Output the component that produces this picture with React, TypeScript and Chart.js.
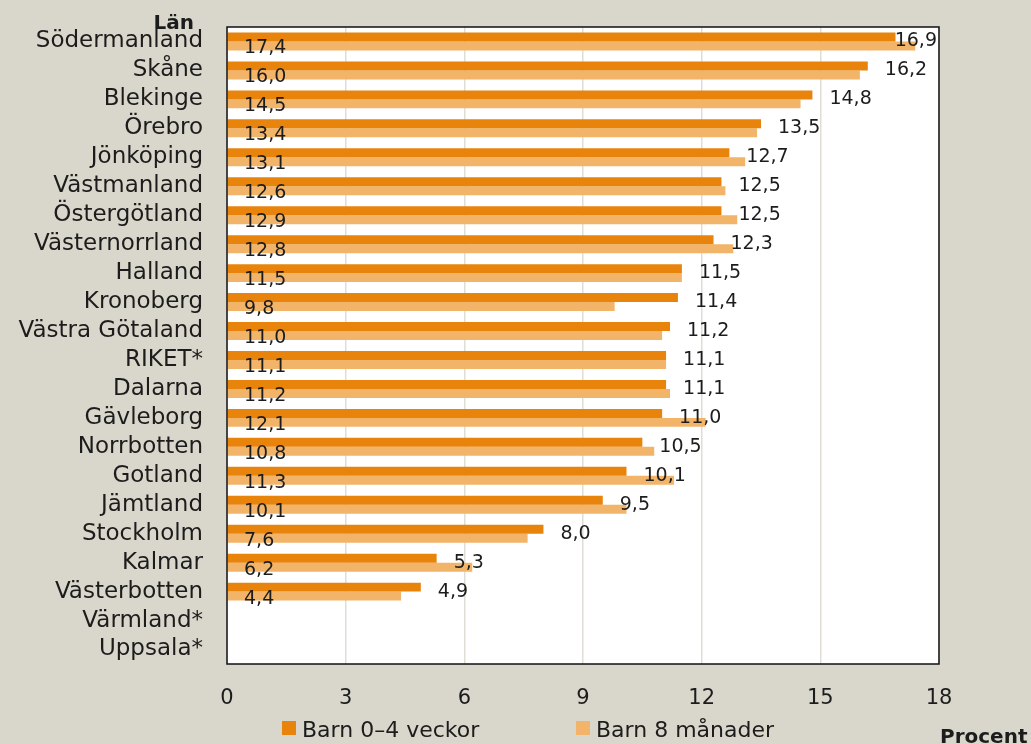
import { useEffect, useRef } from "react";
import { Chart, registerables } from "chart.js";

Chart.register(...registerables);

// Län (county), top to bottom
const counties = [
  "Södermanland", "Skåne", "Blekinge", "Örebro", "Jönköping", "Västmanland",
  "Östergötland", "Västernorrland", "Halland", "Kronoberg", "Västra Götaland",
  "RIKET*", "Dalarna", "Gävleborg", "Norrbotten", "Gotland", "Jämtland",
  "Stockholm", "Kalmar", "Västerbotten", "Värmland*", "Uppsala*",
];

// Procent, Barn 0–4 veckor
const newborns: (number | null)[] = [
  16.9, 16.2, 14.8, 13.5, 12.7, 12.5, 12.5, 12.3, 11.5, 11.4, 11.2,
  11.1, 11.1, 11.0, 10.5, 10.1, 9.5, 8.0, 5.3, 4.9, null, null,
];

// Procent, Barn 8 månader
const eightMonths: (number | null)[] = [
  17.4, 16.0, 14.5, 13.4, 13.1, 12.6, 12.9, 12.8, 11.5, 9.8, 11.0,
  11.1, 11.2, 12.1, 10.8, 11.3, 10.1, 7.6, 6.2, 4.4, null, null,
];

const seriesNames = ["Barn 0–4 veckor", "Barn 8 månader"];
const xMax = 18;
const xStep = 3;

const DARK = "#e8830c";
const LIGHT = "#f2b468";
const BG = "#d9d7cc";
const TEXT = "#1c1c1c";
const FONT = "'DejaVu Sans', sans-serif";

const fmt = (v: number) => v.toFixed(1).replace(".", ",");

const decorations = {
  id: "decorations",
  beforeDraw(chart: Chart) {
    const { ctx, chartArea: a } = chart;
    ctx.save();
    ctx.fillStyle = BG;
    ctx.fillRect(0, 0, chart.width, chart.height);
    ctx.fillStyle = "#ffffff";
    ctx.fillRect(a.left, a.top, a.right - a.left, a.bottom - a.top);
    ctx.restore();
  },
  afterDatasetsDraw(chart: Chart) {
    const { ctx, chartArea: a } = chart;
    const xs = chart.scales.x;
    const ys = chart.scales.y;
    ctx.save();
    ctx.fillStyle = TEXT;
    ctx.font = `19px ${FONT}`;
    ctx.textBaseline = "alphabetic";
    ctx.textAlign = "left";
    counties.forEach((_, i) => {
      const yc = ys.getPixelForValue(i);
      const d = newborns[i];
      if (d != null) {
        const t = fmt(d);
        const w = ctx.measureText(t).width;
        const x = Math.min(xs.getPixelForValue(d) + 17, a.right - w - 2);
        ctx.fillText(t, x, yc + 5);
      }
      const l = eightMonths[i];
      if (l != null) {
        ctx.fillText(fmt(l), a.left + 17, yc + 12);
      }
    });
    ctx.restore();
  },
  afterDraw(chart: Chart) {
    const { ctx, chartArea: a } = chart;
    ctx.save();
    // plot frame
    ctx.strokeStyle = "#111";
    ctx.lineWidth = 1.5;
    ctx.strokeRect(a.left, a.top, a.right - a.left, a.bottom - a.top);

    // axis titles
    ctx.fillStyle = TEXT;
    ctx.font = `bold 20px ${FONT}`;
    ctx.textAlign = "right";
    ctx.textBaseline = "alphabetic";
    ctx.fillText("Län", 194, 29);
    ctx.textAlign = "left";
    ctx.fillText("Procent", 940, 743);

    // legend
    const items = [
      { x: 282, color: DARK, text: seriesNames[0] },
      { x: 576, color: LIGHT, text: seriesNames[1] },
    ];
    ctx.font = `22px ${FONT}`;
    items.forEach((it) => {
      ctx.fillStyle = it.color;
      ctx.fillRect(it.x, 721, 14, 14);
      ctx.fillStyle = TEXT;
      ctx.fillText(it.text, it.x + 20, 737);
    });
    ctx.restore();
  },
};

export default function App() {
  const ref = useRef<HTMLCanvasElement>(null);

  useEffect(() => {
    if (!ref.current) return;
    const chart = new Chart(ref.current, {
      type: "bar",
      data: {
        labels: counties,
        datasets: [
          {
            label: seriesNames[0],
            data: newborns,
            backgroundColor: DARK,
            borderWidth: 0,
            barPercentage: 1,
            categoryPercentage: 0.62,
          },
          {
            label: seriesNames[1],
            data: eightMonths,
            backgroundColor: LIGHT,
            borderWidth: 0,
            barPercentage: 1,
            categoryPercentage: 0.62,
          },
        ],
      },
      plugins: [decorations],
      options: {
        indexAxis: "y",
        responsive: false,
        animation: false,
        devicePixelRatio: 1,
        layout: { padding: { top: 27, right: 92, left: 0, bottom: 0 } },
        plugins: {
          legend: { display: false },
          tooltip: { enabled: false },
        },
        scales: {
          x: {
            min: 0,
            max: xMax,
            ticks: {
              stepSize: xStep,
              color: TEXT,
              font: { family: FONT, size: 21 },
              padding: 22,
            },
            grid: { color: "#e0ddd5", lineWidth: 1.5, drawTicks: false },
            border: { display: false },
            afterFit: (s: any) => {
              s.height = 80;
              s.paddingLeft = 0;
              s.paddingRight = 0;
            },
          },
          y: {
            ticks: {
              color: TEXT,
              font: { family: FONT, size: 23 },
              padding: 24,
              autoSkip: false,
            },
            grid: { display: false, drawTicks: false },
            border: { display: false },
            afterFit: (s: any) => {
              s.width = 227;
              s.paddingTop = 0;
              s.paddingBottom = 0;
            },
          },
        },
      },
    });
    return () => chart.destroy();
  }, []);

  return (
    <div
      style={{
        position: "absolute",
        left: 0,
        top: 0,
        width: 1031,
        height: 744,
        background: BG,
      }}
    >
      <canvas ref={ref} width={1031} height={744} />
    </div>
  );
}
